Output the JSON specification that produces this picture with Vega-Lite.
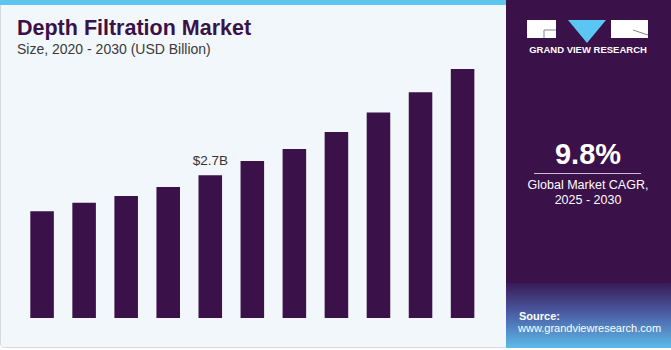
{
  "$schema": "https://vega.github.io/schema/vega-lite/v6.json",
  "width": 671,
  "height": 350,
  "autosize": {"type": "none"},
  "padding": 0,
  "background": "#ffffff",
  "config": {"view": {"stroke": null}, "font": "Liberation Sans"},
  "data": {"values": [
    {"year": "2020", "value": 2.02},
    {"year": "2021", "value": 2.18},
    {"year": "2022", "value": 2.31},
    {"year": "2023", "value": 2.48},
    {"year": "2024", "value": 2.70, "label": "$2.7B"},
    {"year": "2025", "value": 2.97},
    {"year": "2026", "value": 3.20},
    {"year": "2027", "value": 3.52},
    {"year": "2028", "value": 3.89},
    {"year": "2029", "value": 4.27},
    {"year": "2030", "value": 4.71}
  ]},
  "layer": [
    {
      "data": {"values": [{}]},
      "mark": {"type": "rect", "fill": "#f2f7fb", "stroke": "#d6dadd", "strokeWidth": 1, "cornerRadius": 4},
      "encoding": {"x": {"value": 0.5}, "x2": {"value": 508}, "y": {"value": 0}, "y2": {"value": 347.5}}
    },
    {
      "data": {"values": [{}]},
      "mark": {"type": "rect", "fill": "#5ec5ef"},
      "encoding": {"x": {"value": 0}, "x2": {"value": 506}, "y": {"value": 0}, "y2": {"value": 5}}
    },
    {
      "data": {"values": [{}]},
      "mark": {"type": "rect", "fill": "#3a1149"},
      "encoding": {"x": {"value": 506}, "x2": {"value": 671}, "y": {"value": 0}, "y2": {"value": 348}}
    },
    {
      "data": {"values": [{}]},
      "mark": {"type": "rect", "fill": {"gradient": "linear", "x1": 0, "y1": 0, "x2": 0, "y2": 1, "stops": [{"offset": 0, "color": "#3a1a57"}, {"offset": 0.45, "color": "#4a5aa3"}, {"offset": 1, "color": "#5cbbe9"}]}},
      "encoding": {"x": {"value": 506}, "x2": {"value": 671}, "y": {"value": 283}, "y2": {"value": 348}}
    },
    {
      "data": {"values": [{}]},
      "mark": {"type": "rect", "fill": "#ffffff"},
      "encoding": {"x": {"value": 527}, "x2": {"value": 556}, "y": {"value": 20}, "y2": {"value": 38}}
    },
    {
      "data": {"values": [{}]},
      "mark": {"type": "rect", "fill": "#ffffff"},
      "encoding": {"x": {"value": 611}, "x2": {"value": 648}, "y": {"value": 20}, "y2": {"value": 38}}
    },
    {
      "data": {"values": [{}]},
      "mark": {"type": "rule", "stroke": "#8a7f92", "strokeWidth": 1},
      "encoding": {"x": {"value": 544}, "x2": {"value": 556}, "y": {"value": 30}}
    },
    {
      "data": {"values": [{}]},
      "mark": {"type": "rule", "stroke": "#8a7f92", "strokeWidth": 1},
      "encoding": {"x": {"value": 544}, "y": {"value": 30}, "y2": {"value": 38}}
    },
    {
      "data": {"values": [{}]},
      "mark": {"type": "rule", "stroke": "#8a7f92", "strokeWidth": 1},
      "encoding": {"x": {"value": 633}, "x2": {"value": 648}, "y": {"value": 30}, "y2": {"value": 35}}
    },
    {
      "data": {"values": [{}]},
      "mark": {"type": "point", "shape": "M-1,-0.6L1,-0.6L0,0.6Z", "filled": true, "fill": "#5cc6f2", "opacity": 1, "size": 1444},
      "encoding": {"x": {"value": 587}, "y": {"value": 31.5}}
    },
    {
      "data": {"values": [{}]},
      "mark": {"type": "text", "text": "GRAND VIEW RESEARCH", "fill": "#ffffff", "fontSize": 9.5, "fontWeight": "bold", "align": "center", "baseline": "alphabetic", "letterSpacing": 0.6},
      "encoding": {"x": {"value": 588}, "y": {"value": 53}}
    },
    {
      "data": {"values": [{}]},
      "mark": {"type": "text", "text": "9.8%", "fill": "#ffffff", "fontSize": 29, "fontWeight": "bold", "align": "center", "baseline": "alphabetic"},
      "encoding": {"x": {"value": 588}, "y": {"value": 164}}
    },
    {
      "data": {"values": [{}]},
      "mark": {"type": "rule", "stroke": "#c9bdd3", "strokeWidth": 1},
      "encoding": {"x": {"value": 534}, "x2": {"value": 641}, "y": {"value": 173.5}}
    },
    {
      "data": {"values": [{}]},
      "mark": {"type": "text", "text": ["Global Market CAGR,", "2025 - 2030"], "fill": "#ffffff", "fontSize": 12.5, "align": "center", "baseline": "alphabetic", "lineHeight": 15},
      "encoding": {"x": {"value": 588}, "y": {"value": 189}}
    },
    {
      "data": {"values": [{}]},
      "mark": {"type": "text", "text": "Source:", "fill": "#ffffff", "fontSize": 11, "fontWeight": "bold", "align": "left", "baseline": "alphabetic"},
      "encoding": {"x": {"value": 519}, "y": {"value": 320}}
    },
    {
      "data": {"values": [{}]},
      "mark": {"type": "text", "text": "www.grandviewresearch.com", "fill": "#ffffff", "fontSize": 11, "align": "left", "baseline": "alphabetic"},
      "encoding": {"x": {"value": 518}, "y": {"value": 332}}
    },
    {
      "data": {"values": [{}]},
      "mark": {"type": "text", "text": "Depth Filtration Market", "fill": "#3a1149", "fontSize": 21.5, "fontWeight": 900, "font": "Liberation Sans", "align": "left", "baseline": "alphabetic"},
      "encoding": {"x": {"value": 17}, "y": {"value": 35}}
    },
    {
      "data": {"values": [{}]},
      "mark": {"type": "text", "text": "Size, 2020 - 2030 (USD Billion)", "fill": "#3a3a3a", "fontSize": 14, "align": "left", "baseline": "alphabetic"},
      "encoding": {"x": {"value": 17}, "y": {"value": 54}}
    },
    {
      "mark": {"type": "bar", "fill": "#3a1149"},
      "encoding": {
        "x": {
          "field": "year", "type": "ordinal",
          "scale": {"range": [21.05, 483.6], "paddingInner": 0.44, "paddingOuter": 0.22},
          "axis": {"orient": "bottom", "offset": -30, "domain": false, "ticks": false, "tickSize": 0, "labelPadding": 2, "labelFontSize": 12.5, "labelColor": "#333333", "labelFont": "Liberation Sans", "labelAngle": 0, "title": null, "grid": false}
        },
        "y": {
          "field": "value", "type": "quantitative",
          "scale": {"domain": [0, 6.017], "range": [318, 0], "nice": false, "zero": true},
          "axis": null
        }
      }
    },
    {
      "transform": [{"filter": "isValid(datum.label)"}],
      "mark": {"type": "text", "fill": "#333333", "fontSize": 13.5, "align": "center", "baseline": "alphabetic", "dy": -10},
      "encoding": {
        "x": {"field": "year", "type": "ordinal", "scale": {"range": [21.05, 483.6], "paddingInner": 0.44, "paddingOuter": 0.22}, "bandPosition": 0.5},
        "y": {"field": "value", "type": "quantitative", "scale": {"domain": [0, 6.017], "range": [318, 0], "nice": false, "zero": true}},
        "text": {"field": "label"}
      }
    }
  ]
}
